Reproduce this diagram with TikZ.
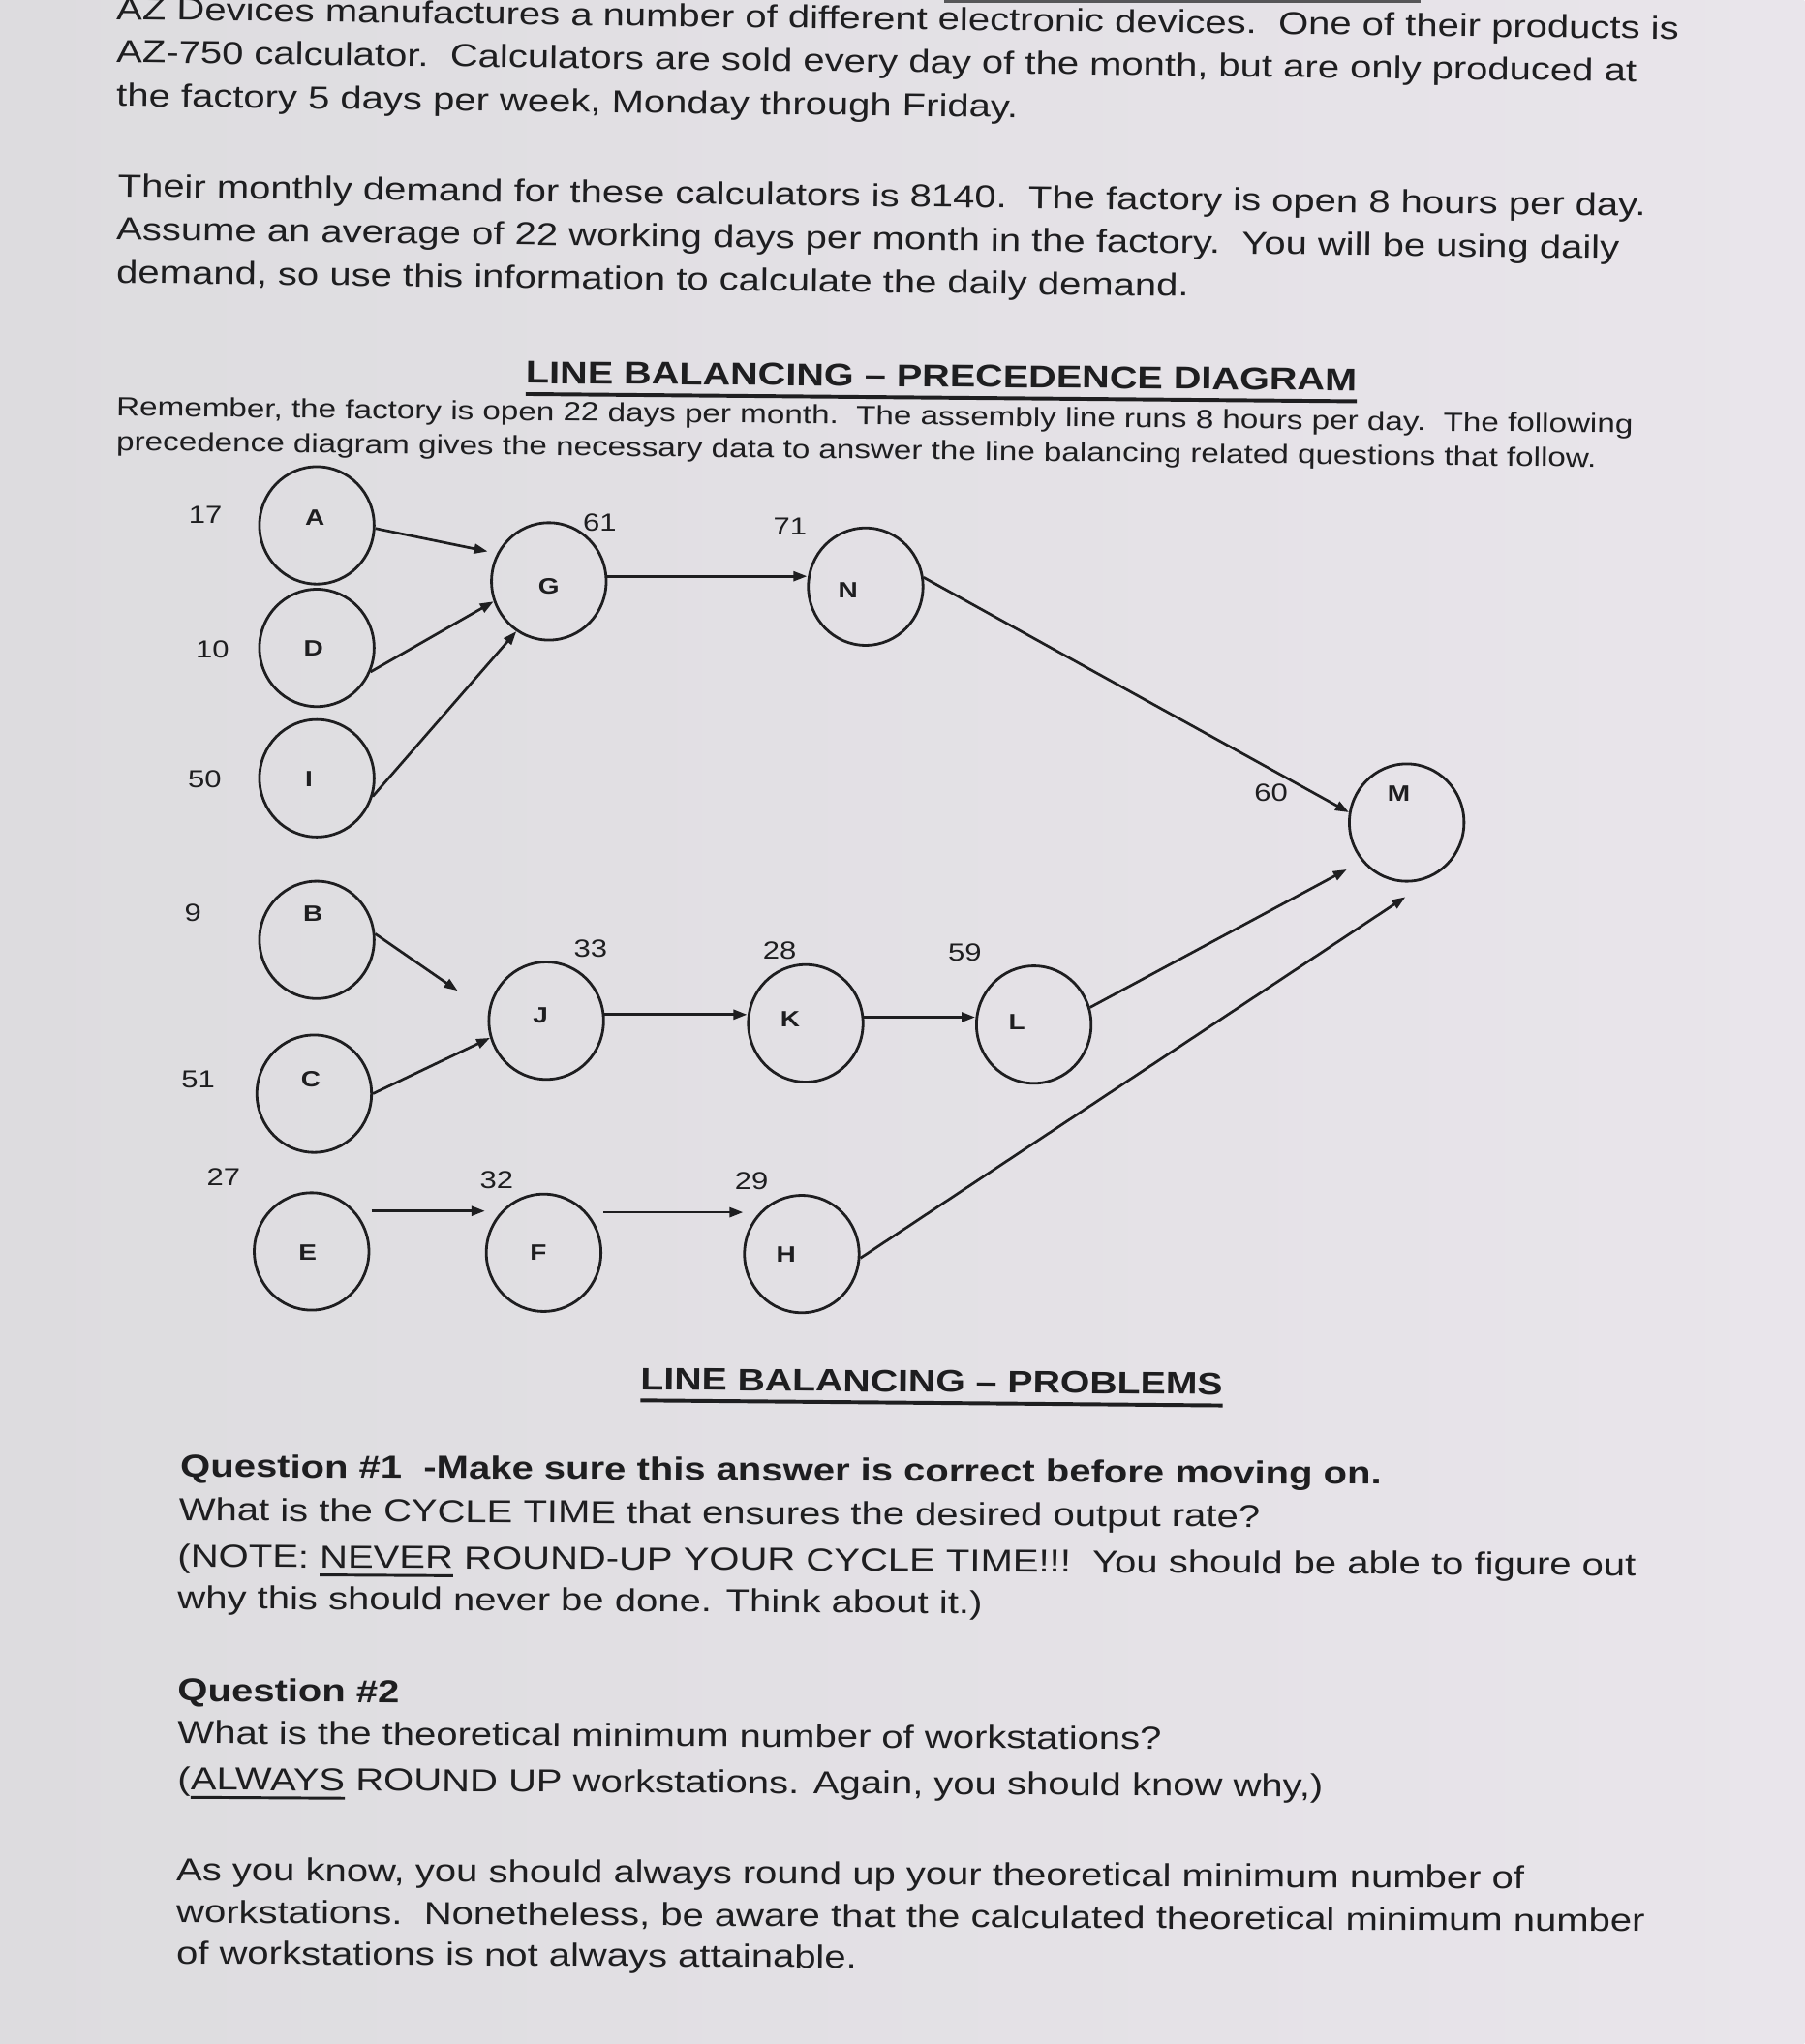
\documentclass[tikz,border=0pt]{standalone}
\usepackage{fontspec}
\setmainfont{Liberation Sans}
\usepackage{graphicx}
\usetikzlibrary{shapes.geometric,arrows.meta,calc}
\definecolor{paperL}{RGB}{221,220,223}
\definecolor{paperR}{RGB}{233,229,235}
\definecolor{ink}{RGB}{30,30,32}
\newcommand{\sq}[1]{\scalebox{1}[0.82]{#1}}
\newcommand{\ulthick}[3]{\vtop{\hbox{#3}\kern#1\hrule height #2}}
\begin{document}
\begin{tikzpicture}[x=0.673pt,y=-0.673pt,
  txt/.style={inner sep=0pt, anchor=base west, text=ink, font=\fontsize{20}{24}\selectfont},
  up/.style={txt, rotate=-0.72},
  small/.style={inner sep=0pt, anchor=base west, text=ink, font=\fontsize{16.6}{20}\selectfont, rotate=-0.65},
  head/.style={inner sep=0pt, anchor=base west, text=ink, font=\fontsize{19.8}{24}\selectfont\bfseries, rotate=-0.5},
  low/.style={txt, rotate=-0.35},
  lowb/.style={low, font=\fontsize{20}{24}\selectfont\bfseries},
  task/.style={draw=ink, line width=1.4pt, ellipse, minimum width=59.2pt, minimum height=60.6pt, inner sep=0pt},
  tlet/.style={text=ink, font=\fontsize{14}{16}\selectfont\bfseries, inner sep=0pt},
  tnum/.style={text=ink, font=\fontsize{15.5}{17}\selectfont, inner sep=0pt},
  arr/.style={draw=ink, line width=1.35pt, -{Triangle[length=7pt,width=5pt]}},
]
\useasboundingbox (0,0) rectangle (1384,1568);
\shade[left color=paperL, right color=paperR] (0,0) rectangle (1384,1568);
\fill[ink!75] (724,0) rectangle (1090,2.2);

% ---------- introduction ----------
\node[up] (p1) at (89,15) {\sq{AZ Devices manufactures a number of different electronic devices.\ \ One of their products is}};
\node[up] (p2) at (89,48) {\sq{AZ-750 calculator.\ \ Calculators are sold every day of the month, but are only produced at}};
\node[up] (p3) at (89,81.5) {\sq{the factory 5 days per week, Monday through Friday.}};
\node[up] (p4) at (90,151) {\sq{Their monthly demand for these calculators is 8140.\ \ The factory is open 8 hours per day.}};
\node[up] (p5) at (89,184) {\sq{Assume an average of 22 working days per month in the factory.\ \ You will be using daily}};
\node[up] (p6) at (89,217) {\sq{demand, so use this information to calculate the daily demand.}};

\node[head] (h1) at (403,294) {\sq{\ulthick{5.4pt}{2.4pt}{LINE BALANCING -- PRECEDENCE DIAGRAM}}};
\node[small] (r1) at (89,319) {\sq{Remember, the factory is open 22 days per month.\ \ The assembly line runs 8 hours per day.\ \ The following}};
\node[small] (r2) at (89,345.5) {\sq{precedence diagram gives the necessary data to answer the line balancing related questions that follow.}};

% ---------- precedence diagram ----------
\node[task] (A) at (243,403) {};
\node[task] (D) at (243,497) {};
\node[task] (I) at (243,597) {};
\node[task] (G) at (421,446) {};
\node[task] (N) at (664,450) {};
\node[task] (M) at (1079,631) {};
\node[task] (B) at (243,721) {};
\node[task] (C) at (241,839) {};
\node[task] (J) at (419,783) {};
\node[task] (K) at (618,785) {};
\node[task] (L) at (793,786) {};
\node[task] (E) at (239,960) {};
\node[task] (F) at (417,961) {};
\node[task] (H) at (615,962) {};

\node[tlet] (lA) at (241.5,397) {\sq{A}};
\node[tlet] (lD) at (240.5,497) {\sq{D}};
\node[tlet] (lI) at (237,598) {\sq{I}};
\node[tlet] (lG) at (421,449.5) {\sq{G}};
\node[tlet] (lN) at (650.5,453) {\sq{N}};
\node[tlet] (lM) at (1073,609) {\sq{M}};
\node[tlet] (lB) at (240,701) {\sq{B}};
\node[tlet] (lC) at (238.5,828) {\sq{C}};
\node[tlet] (lJ) at (414.5,779) {\sq{J}};
\node[tlet] (lK) at (606,781.5) {\sq{K}};
\node[tlet] (lL) at (780,784) {\sq{L}};
\node[tlet] (lE) at (236,960.5) {\sq{E}};
\node[tlet] (lF) at (413,961) {\sq{F}};
\node[tlet] (lH) at (603,962) {\sq{H}};

\node[tnum] (nA) at (157.5,395) {\sq{17}};
\node[tnum] (nD) at (163,498) {\sq{10}};
\node[tnum] (nI) at (157,598) {\sq{50}};
\node[tnum] (nB) at (148,700.5) {\sq{9}};
\node[tnum] (nC) at (152,828) {\sq{51}};
\node[tnum] (nE) at (171.5,903) {\sq{27}};
\node[tnum] (nG) at (460,401) {\sq{61}};
\node[tnum] (nN) at (606,404) {\sq{71}};
\node[tnum] (nM) at (975,608.5) {\sq{60}};
\node[tnum] (nJ) at (453,728) {\sq{33}};
\node[tnum] (nK) at (598,729.5) {\sq{28}};
\node[tnum] (nL) at (740,731) {\sq{59}};
\node[tnum] (nF) at (381,905) {\sq{32}};
\node[tnum] (nH) at (576.5,906) {\sq{29}};

\draw[arr] (A.-3) -- ($(G)+(-47,-23)$);
\draw[arr] (D.-24) -- (G.200);
\draw[arr] (I.-18) -- (G.237);
\draw[arr] (G.5) -- (G.5 -| N.west);
\draw[arr] (N.9) -- (M.170);
\draw[arr] (B.6) -- ($(J)+(-68,-23)$);
\draw[arr] (C.0) -- (J.197);
\draw[arr] (J.6) -- (J.6 -| K.west);
\draw[arr] (K.6) -- (K.6 -| L.west);
\draw[arr] (L.17) -- ($(M)+(-46,36)$);
\draw[arr] (H.-4) -- ($(M.south)+(-1,11)$);
\coordinate (e1) at ($(E.east)+(1,-31)$);
\draw[arr] (e1) -- (e1 -| F.west);
\coordinate (f1) at ($(F.east)+(1,-31)$);
\draw[arr] (f1) -- (f1 -| H.west);

% ---------- problems ----------
\node[head, font=\fontsize{19.6}{24}\selectfont\bfseries] (h2) at (491,1066) {\sq{\ulthick{5.4pt}{2.4pt}{LINE BALANCING -- PROBLEMS}}};
\node[lowb] (q1) at (138,1133) {\sq{Question \#1\ \ -Make sure this answer is correct before moving on.}};
\node[low] (q2) at (137,1166.5) {\sq{What is the CYCLE TIME that ensures the desired output rate?}};
\node[low] (q3) at (136,1202) {\sq{(NOTE: \ulthick{3.6pt}{1.8pt}{NEVER} ROUND-UP YOUR CYCLE TIME!!!\ \ You should be able to figure out}};
\node[low] (q4) at (136,1234) {\sq{why this should never be done. Think about it.)}};
\node[lowb] (q5) at (136,1305) {\sq{Question \#2}};
\node[low] (q6) at (136,1337.5) {\sq{What is the theoretical minimum number of workstations?}};
\node[low] (q7) at (136,1373) {\sq{(\ulthick{3.6pt}{1.8pt}{ALWAYS} ROUND UP workstations. Again, you should know why,)}};
\node[low] (q8) at (135,1442.5) {\sq{As you know, you should always round up your theoretical minimum number of}};
\node[low] (q9) at (135,1475) {\sq{workstations.\ \ Nonetheless, be aware that the calculated theoretical minimum number}};
\node[low] (q10) at (135,1506.5) {\sq{of workstations is not always attainable.}};
\end{tikzpicture}
\end{document}
